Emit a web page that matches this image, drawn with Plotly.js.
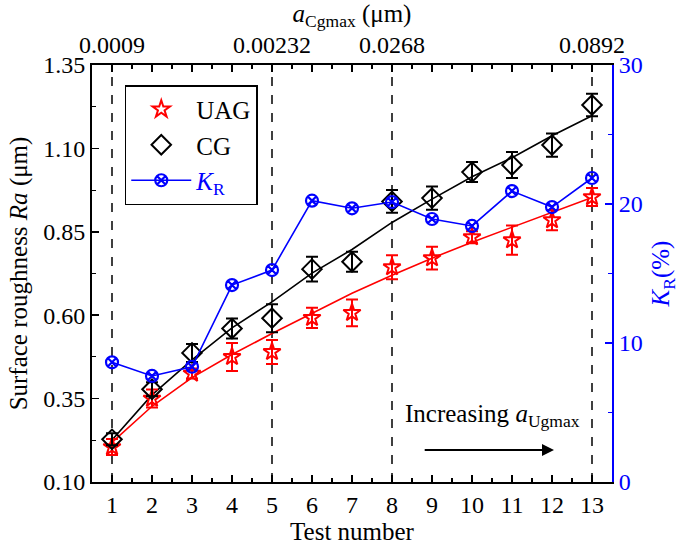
<!DOCTYPE html>
<html>
<head>
<meta charset="utf-8">
<script src="https://cdn.plot.ly/plotly-3.0.1.min.js"></script>
<style>html,body{margin:0;padding:0;background:#fff;}#chart{width:685px;height:545px;}</style>
</head>
<body>
<div id="chart"></div>
<script>
// ---- data ----
const tests = [1,2,3,4,5,6,7,8,9,10,11,12,13];
const uag = [0.205,0.350,0.425,0.475,0.490,0.592,0.607,0.744,0.771,0.834,0.825,0.885,0.954];
const uagErr = [0.024,0.027,0.015,0.042,0.036,0.030,0.040,0.036,0.034,0.018,0.044,0.030,0.027];
const cg = [0.228,0.378,0.487,0.560,0.591,0.738,0.760,0.941,0.951,1.029,1.050,1.110,1.230];
const cgErr = [0.018,0.021,0.027,0.030,0.042,0.037,0.030,0.034,0.035,0.030,0.039,0.035,0.034];
const kr = [8.61,7.63,8.29,14.17,15.25,20.24,19.69,20.14,18.92,18.42,20.93,19.78,21.87];
const uagFit = [0.219,0.327,0.413,0.482,0.545,0.606,0.666,0.720,0.771,0.819,0.864,0.909,0.953];
const cgFit = [0.226,0.361,0.466,0.562,0.640,0.726,0.797,0.878,0.948,1.015,1.072,1.138,1.198];
const markedTests = [1,5,8,13];
const markedLabels = ['0.0009','0.00232','0.0268','0.0892'];

const FONT = 'Liberation Serif, Times New Roman, serif';
const TICK = 24, TITLE = 25;

const traces = [
  {x: tests, y: uagFit, mode: 'lines', line: {color: 'red', width: 1.6}, showlegend: false, hoverinfo: 'skip'},
  {x: tests, y: cgFit, mode: 'lines', line: {color: 'black', width: 1.6}, showlegend: false, hoverinfo: 'skip'},
  {x: tests, y: uag, mode: 'markers', name: 'UAG',
   marker: {symbol: 'star-open', size: 13, color: 'red', line: {width: 2, color: 'red'}},
   error_y: {type: 'data', array: uagErr, visible: true, color: 'red', thickness: 2, width: 6}},
  {x: tests, y: cg, mode: 'markers', name: 'CG',
   marker: {symbol: 'diamond-open', size: 15, color: 'black', line: {width: 2, color: 'black'}},
   error_y: {type: 'data', array: cgErr, visible: true, color: 'black', thickness: 2, width: 6}},
  {x: tests, y: kr, xaxis: 'x2', yaxis: 'y2', mode: 'lines+markers',
   name: '<span style="color:blue"><i>K</i><sub>R</sub></span>',
   line: {color: 'blue', width: 1.6},
   marker: {symbol: 'circle-x-open', size: 12, color: 'blue', line: {width: 2.2, color: 'blue'}}}
];

const shapes = markedTests.map(t => ({
  type: 'line', xref: 'x', yref: 'paper', x0: t, x1: t, y0: 0, y1: 1,
  line: {color: 'black', width: 1.5, dash: 'dash'}, layer: 'below'
}));

const layout = {
  width: 685, height: 545,
  margin: {l: 92, r: 73, t: 65, b: 63},
  paper_bgcolor: '#fff', plot_bgcolor: '#fff',
  font: {family: FONT, size: TICK, color: 'black'},
  showlegend: true,
  legend: {x: 0.063, y: 0.952, xanchor: 'left', yanchor: 'top',
    bgcolor: '#fff', bordercolor: 'black', borderwidth: 1.5,
    font: {family: FONT, size: 25, color: 'black'},
    traceorder: 'normal', itemwidth: 60, tracegroupgap: 0},
  xaxis: {range: [0.5, 13.5], tickmode: 'array', tickvals: tests, ticktext: tests.map(String),
    ticks: 'inside', ticklen: 7, tickwidth: 1.5, tickcolor: 'black',
    minor: {dtick: 0.5, tick0: 0.5, ticks: 'inside', ticklen: 4, tickwidth: 1.2, tickcolor: 'black'},
    showline: true, linecolor: 'black', linewidth: 2, mirror: false,
    showgrid: false, zeroline: false, tickfont: {size: TICK},
    title: {text: 'Test number', font: {size: TITLE}, standoff: 5}},
  xaxis2: {range: [0.5, 13.5], overlaying: 'x', side: 'top', anchor: 'y2',
    tickmode: 'array', tickvals: tests,
    ticktext: tests.map(t => { const i = markedTests.indexOf(t); return i >= 0 ? markedLabels[i] : ''; }),
    ticks: 'inside', ticklen: 7, tickwidth: 1.5, tickcolor: 'black',
    minor: {dtick: 0.5, tick0: 0.5, ticks: 'inside', ticklen: 4, tickwidth: 1.2, tickcolor: 'black'},
    showline: true, linecolor: 'black', linewidth: 2,
    showgrid: false, zeroline: false, tickfont: {size: TICK},
    title: {text: '<i>a</i><sub>Cgmax</sub> (μm)', font: {size: TITLE}, standoff: 6}},
  yaxis: {range: [0.10, 1.35], tickvals: [0.10,0.35,0.60,0.85,1.10,1.35],
    ticktext: ['0.10','0.35','0.60','0.85','1.10','1.35'],
    ticks: 'inside', ticklen: 7, tickwidth: 1.5, tickcolor: 'black',
    minor: {dtick: 0.125, tick0: 0.10, ticks: 'inside', ticklen: 4, tickwidth: 1.2, tickcolor: 'black'},
    showline: true, linecolor: 'black', linewidth: 2,
    showgrid: false, zeroline: false, tickfont: {size: TICK},
    title: {text: 'Surface roughness <i>Ra</i> (μm)', font: {size: TITLE}, standoff: 8}},
  yaxis2: {range: [0, 30], overlaying: 'y', side: 'right', anchor: 'x2',
    tickvals: [0,10,20,30],
    ticks: 'inside', ticklen: 7, tickwidth: 1.5, tickcolor: 'blue',
    minor: {dtick: 5, ticks: 'inside', ticklen: 4, tickwidth: 1.2, tickcolor: 'blue'},
    showline: true, linecolor: 'blue', linewidth: 2,
    showgrid: false, zeroline: false, tickfont: {size: TICK, color: 'blue'},
    title: {text: '<i>K</i><sub>R</sub>(%)', font: {size: TITLE, color: 'blue'}, standoff: 10}},
  shapes: shapes,
  annotations: [
    {xref: 'x', yref: 'y', x: 10.5, y: 0.30, text: 'Increasing <i>a</i><sub>Ugmax</sub>',
     showarrow: false, font: {size: TITLE}},
    {xref: 'x', yref: 'y', x: 12.05, y: 0.196, ax: 8.78, ay: 0.196, axref: 'x', ayref: 'y',
     text: '', showarrow: true, arrowhead: 2, arrowsize: 1.2, arrowwidth: 2, arrowcolor: 'black'}
  ]
};

Plotly.newPlot('chart', traces, layout, {displayModeBar: false, staticPlot: true});
</script>
</body>
</html>
